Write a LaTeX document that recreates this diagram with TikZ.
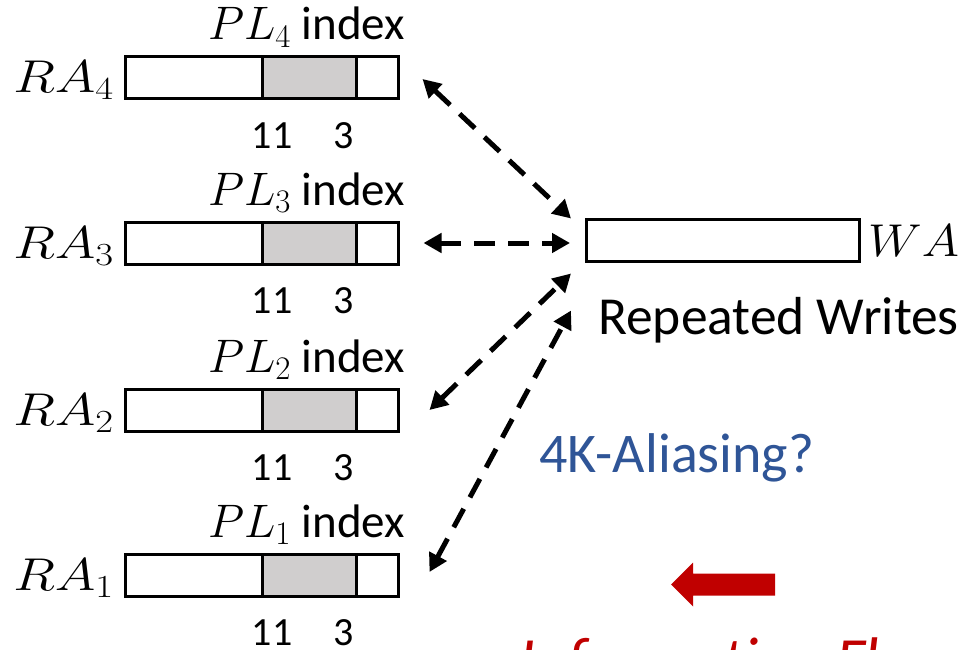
\RequirePackage{fix-cm}
\documentclass[tikz,border=0pt]{standalone}
\usepackage{fontspec}
\usepackage{graphicx}
\setmainfont{Carlito}
\usetikzlibrary{arrows.meta,calc}
\definecolor{qblue}{HTML}{2F5597}
\definecolor{qred}{HTML}{C00000}
\definecolor{pgray}{HTML}{D0CECE}

\begin{document}
\begin{tikzpicture}[x=1pt,y=-1pt,
  regbox/.style={draw, line width=3pt, minimum width=273pt, minimum height=42pt, inner sep=0pt},
  field/.style={draw, line width=3pt, fill=pgray, minimum width=94pt, minimum height=42pt, inner sep=0pt},
  reglabel/.style={anchor=base east, font=\fontsize{46}{50}\selectfont, inner sep=0pt},
  idxlabel/.style={anchor=base east, font=\fontsize{47}{50}\selectfont, inner sep=0pt},
  bitlabel/.style={anchor=base, font=\fontsize{40}{44}\selectfont, inner sep=0pt},
  link/.style={line width=5pt, dash pattern=on 21pt off 13pt,
    {Triangle[length=18pt,width=19pt]}-{Triangle[length=18pt,width=19pt]}}
]
\useasboundingbox (0,0) rectangle (963,650);
\clip (0,0) rectangle (963,650);

% read-address registers with the page-line index field
\foreach \i/\y in {4/78, 3/243.5, 2/410.5, 1/575.5} {
  \node[regbox] (ra\i) at (261.5,\y) {};
  \node[field] (pl\i) at (309,\y) {};
  \node[reglabel] (ralab\i) at (114,\y+15) {\scalebox{1.2}[1]{$RA_{\i}$}};
  \node[idxlabel] (idx\i) at (405,\y-38) {$PL_{\i}$ index};
  \node[bitlabel] (b11\i) at (272,\y+70) {11};
  \node[bitlabel] (b3\i) at (344,\y+70) {3};
}

% write-address register
\node[regbox] (wa) at (723,240) {};
\node[anchor=base west, font=\fontsize{46}{50}\selectfont, inner sep=0pt] (walab) at (868,256) {\scalebox{1.1}[1]{$WA$}};
\node[anchor=base west, font=\fontsize{53.5}{56}\selectfont, inner sep=0pt] (rw) at (598,334) {Repeated Writes};

% arrow end points
\coordinate (a4) at ($(ra4.east)+(23,1)$);
\coordinate (w4) at ($(wa.north west)+(-14,1)$);
\coordinate (a3) at ($(ra3.east)+(24,-0.5)$);
\coordinate (w3) at ($(wa.west)+(-15,3)$);
\coordinate (a2) at ($(ra2.east)+(30,-0.5)$);
\coordinate (w2) at ($(wa.south west)+(-14,11)$);
\coordinate (a1) at ($(ra1.east)+(30,-3.5)$);
\coordinate (w1) at ($(wa.south west)+(-14,48)$);

\draw[link] (a4) -- (w4);
\draw[link] (a3) -- (w3);
\draw[link] (a2) -- (w2);
\draw[link] (a1) -- (w1);

\node[anchor=base west, text=qblue, font=\fontsize{56}{60}\selectfont, inner sep=0pt] (alias) at (539,472) {4K-Aliasing?};

% information-flow marker
\fill[qred] (671,584.5) -- (693,562.5) -- (693,573.5) -- (775,573.5)
  -- (775,595.5) -- (693,595.5) -- (693,606.5) -- cycle;
\node[anchor=base west, text=qred, font=\itshape\fontsize{63}{66}\selectfont, inner sep=0pt] (flowlab) at (519,681) {Information Flow};
\end{tikzpicture}
\end{document}
